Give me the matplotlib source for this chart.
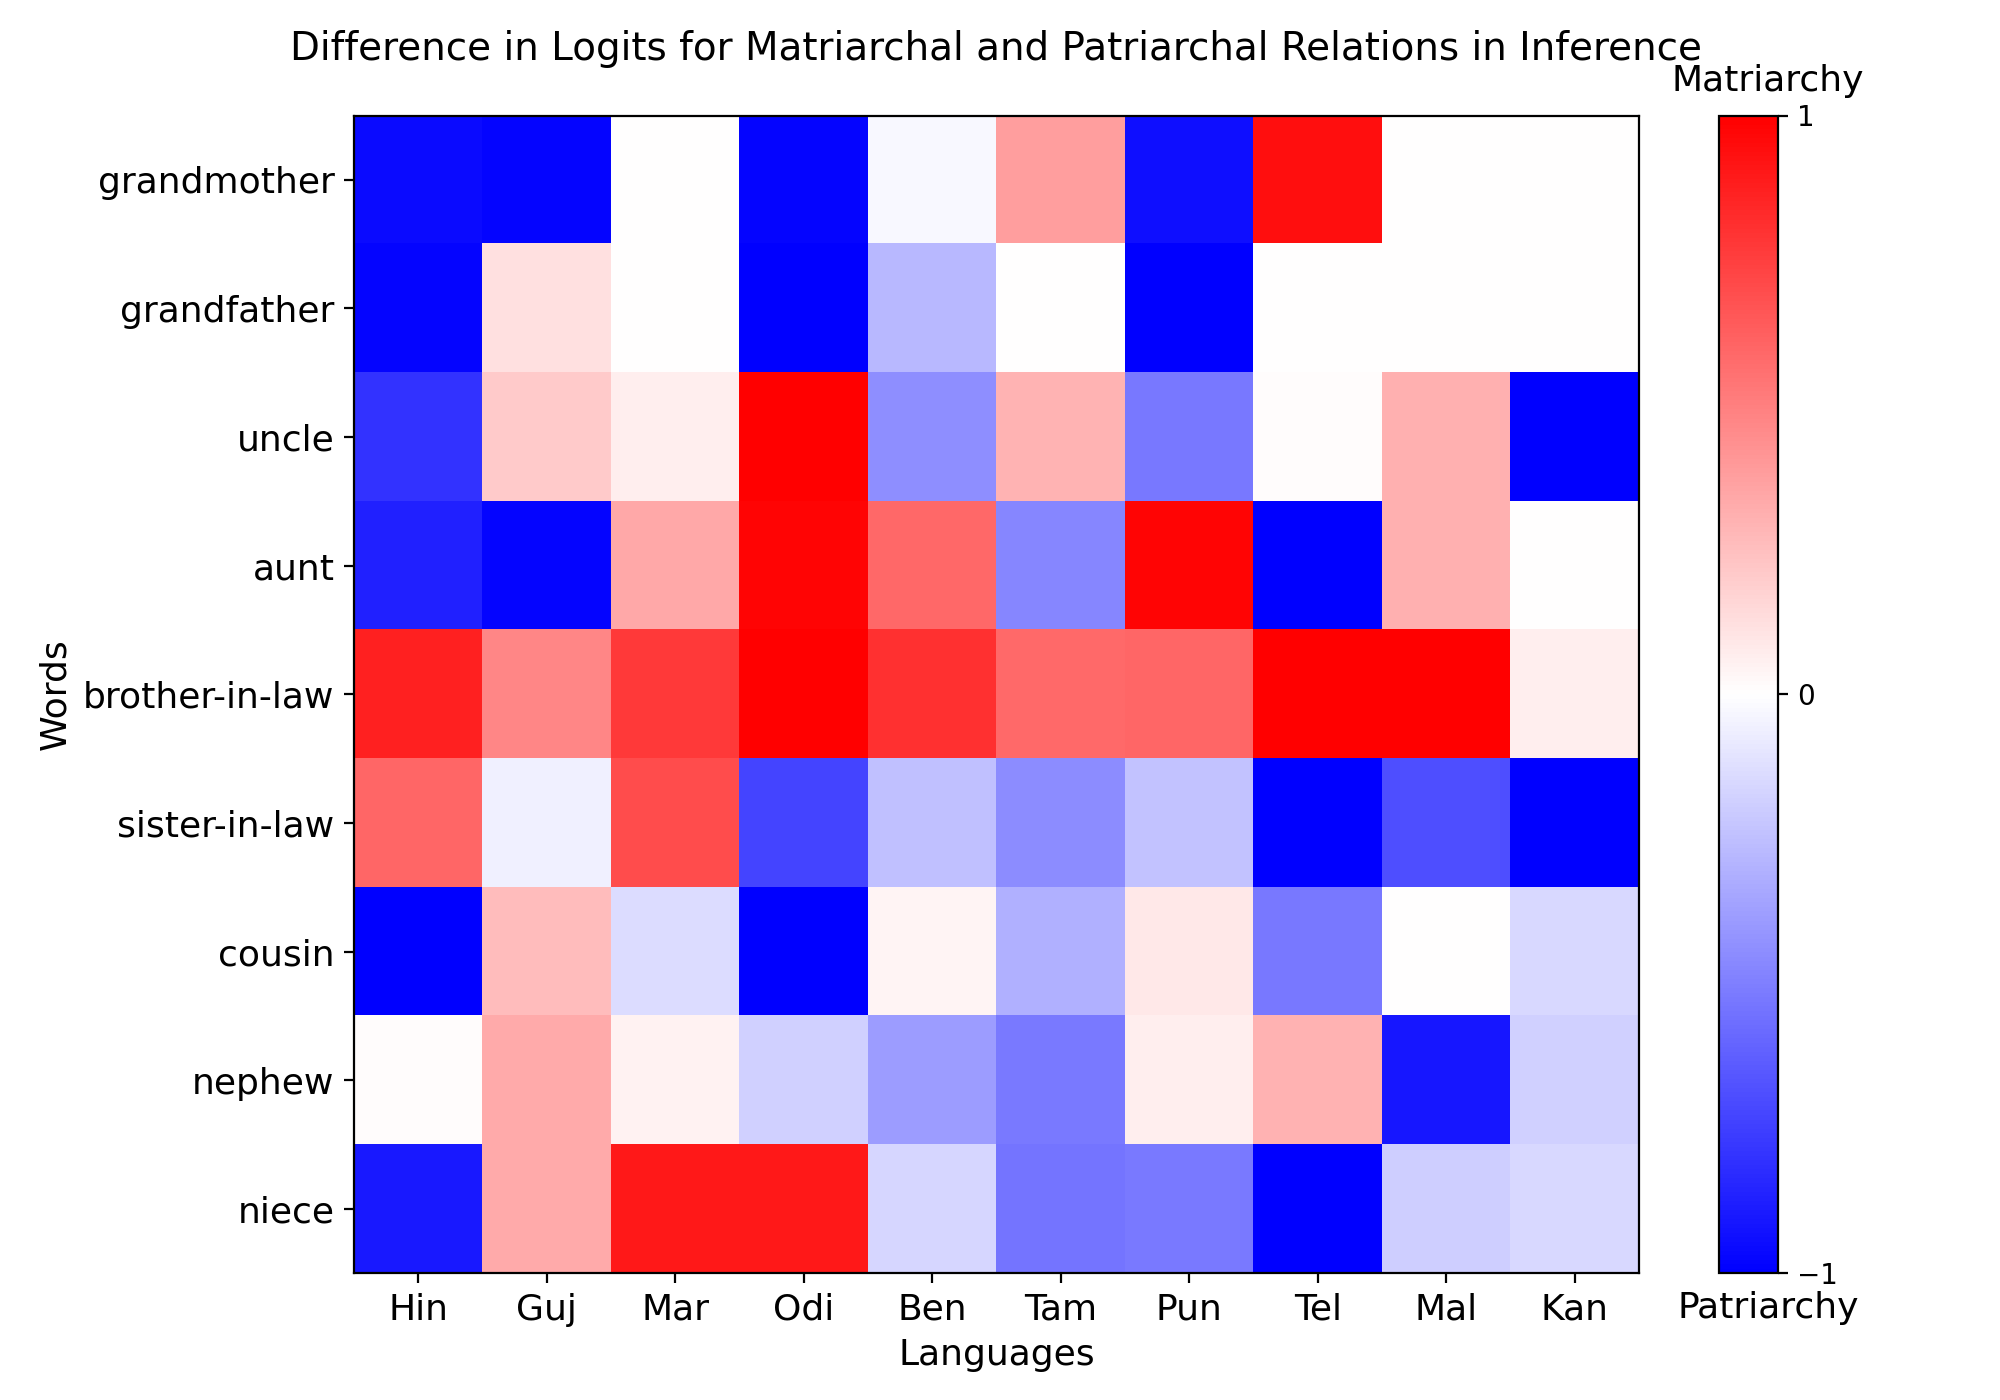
import numpy as np
import matplotlib
matplotlib.use('Agg')
import matplotlib.pyplot as plt

languages = ["Hin", "Guj", "Mar", "Odi", "Ben", "Tam", "Pun", "Tel", "Mal", "Kan"]
words = ["grandmother", "grandfather", "uncle", "aunt", "brother-in-law",
         "sister-in-law", "cousin", "nephew", "niece"]

# logit differences (one list per word)
grandmother = [-0.96, -0.98, 0.00, -0.98, -0.03, 0.38, -0.94, 0.94, 0.00, 0.00]
grandfather = [-0.98, 0.12, 0.00, -1.00, -0.28, 0.00, -1.00, 0.00, 0.00, 0.00]
uncle = [-0.80, 0.21, 0.07, 1.00, -0.44, 0.29, -0.53, 0.01, 0.31, -1.00]
aunt = [-0.87, -0.98, 0.34, 0.98, 0.59, -0.47, 0.98, -1.00, 0.31, 0.00]
brother_in_law = [0.87, 0.47, 0.77, 1.00, 0.81, 0.58, 0.60, 1.00, 1.00, 0.07]
sister_in_law = [0.60, -0.06, 0.70, -0.73, -0.25, -0.45, -0.24, -1.00, -0.69, -1.00]
cousin = [-1.00, 0.26, -0.14, -1.00, 0.04, -0.31, 0.09, -0.53, 0.00, -0.15]
nephew = [0.01, 0.33, 0.05, -0.18, -0.39, -0.52, 0.07, 0.30, -0.91, -0.18]
niece = [-0.90, 0.33, 0.90, 0.90, -0.16, -0.54, -0.52, -1.00, -0.19, -0.15]

data = np.array([grandmother, grandfather, uncle, aunt, brother_in_law,
                 sister_in_law, cousin, nephew, niece])

fig = plt.figure(figsize=(10, 7), dpi=200)
ax = fig.add_axes([0.177, 0.0905, 0.6425, 0.827])
cax = fig.add_axes([0.8595, 0.0905, 0.0295, 0.827])

im = ax.imshow(data, cmap="bwr", vmin=-1, vmax=1, aspect="auto")
ax.set_xticks(range(len(languages)))
ax.set_xticklabels(languages, fontsize=13)
ax.set_yticks(range(len(words)))
ax.set_yticklabels(words, fontsize=13)
ax.set_xlabel("Languages", fontsize=13)
ax.set_ylabel("Words", fontsize=13)
ax.set_title("Difference in Logits for Matriarchal and Patriarchal Relations in Inference",
             fontsize=14, pad=20)

cbar = fig.colorbar(im, cax=cax, ticks=[-1, 0, 1])
cbar.ax.tick_params(labelsize=10)
cax.text(0.82, 1.015, "Matriarchy", transform=cax.transAxes, ha="center", va="bottom", fontsize=13)
cax.text(0.84, -0.015, "Patriarchy", transform=cax.transAxes, ha="center", va="top", fontsize=13)

plt.savefig("out.png")
